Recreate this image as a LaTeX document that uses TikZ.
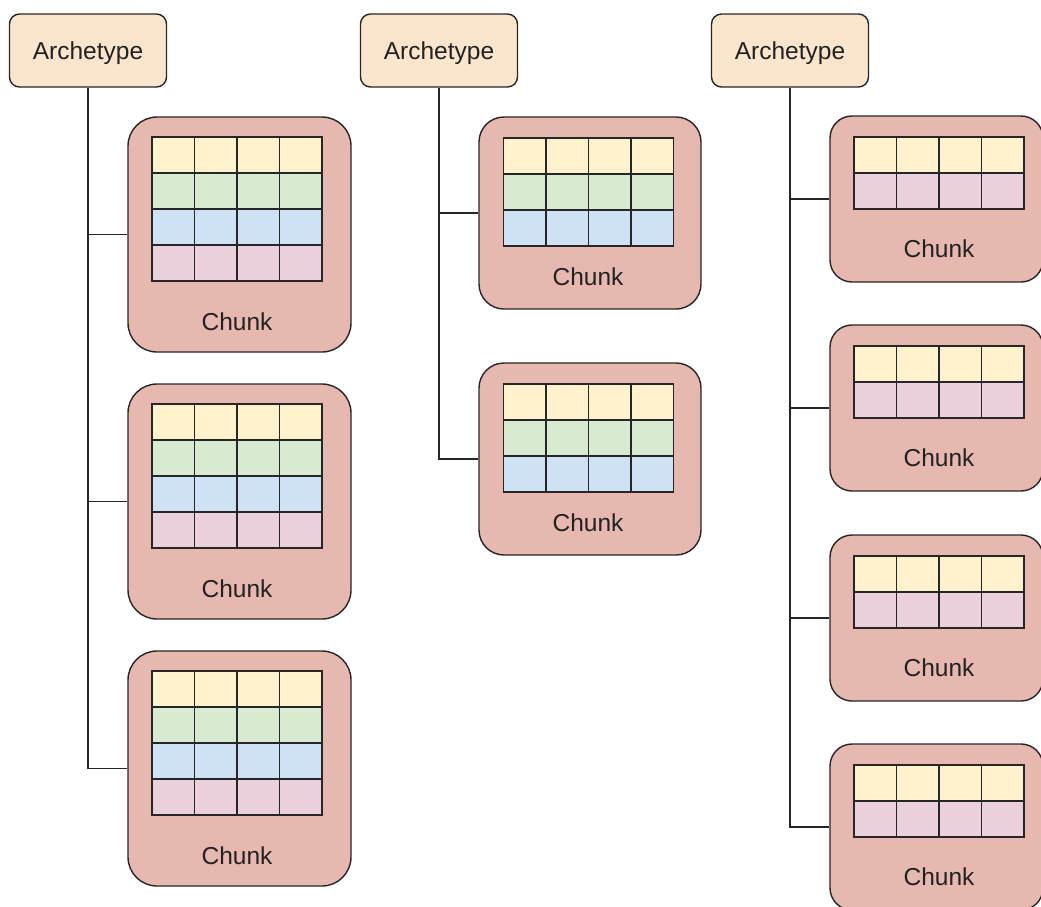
\documentclass[tikz,border=0pt]{standalone}
\usepackage{fontspec}
\setmainfont{Liberation Sans}

\definecolor{edge}{HTML}{262626}
\definecolor{ink}{HTML}{222222}
\definecolor{archfill}{HTML}{FCE5CD}
\definecolor{chunkfill}{HTML}{E6B8AF}
\definecolor{rowyellow}{HTML}{FFF2CC}
\definecolor{rowgreen}{HTML}{D9EAD3}
\definecolor{rowblue}{HTML}{CFE2F3}
\definecolor{rowpink}{HTML}{EAD1DC}

\tikzset{
  archbox/.style={draw=edge, fill=archfill, line width=1.4pt, rounded corners=10pt,
    minimum width=157pt, minimum height=73pt, inner sep=0pt,
    text height=17.5pt, text depth=0pt,
    font=\fontsize{24.5}{29}\selectfont, text=ink},
  chunkbox/.style={draw=edge, fill=chunkfill, line width=1.4pt, inner sep=0pt},
  chunktext/.style={font=\fontsize{24.5}{29}\selectfont, text=ink, inner sep=0pt,
    text height=17.5pt, text depth=0pt},
  cell/.style={draw=edge, line width=1.5pt, minimum width=42.5pt, minimum height=36pt,
    inner sep=0pt, outer sep=0pt, anchor=north west},
  link/.style={draw=edge, line width=1.5pt},
}

% a grid of component cells: name prefix, left x, top y, list of row colours
\newcommand\cellgrid[4]{%
  \foreach \rc [count=\r from 0] in {#4} {
    \foreach \k in {0,...,3} {
      \node[cell, fill=\rc] (#1-\r-\k) at ({#2+\k*42.5},{#3+\r*36}) {};
    }
  }%
}

\begin{document}
\begin{tikzpicture}[x=1pt, y=-1pt]
  \useasboundingbox (0,0) rectangle (1041,906);
  \clip (0,0) rectangle (1041,906);

  % archetypes
  \node[archbox] (a1) at (88,50.5) {Archetype};
  \node[archbox] (a2) at (439,50.5) {Archetype};
  \node[archbox] (a3) at (790,50.5) {Archetype};

  % first archetype: three chunks with four component rows
  \foreach \i/\top in {1/117, 2/384, 3/651} {
    \node[chunkbox, rounded corners=29pt, minimum width=223pt, minimum height=235pt]
      (l\i) at (239.5,{\top+117.5}) {};
    \draw[link] (a1.south) |- (l\i.west);
    \cellgrid{lg\i}{152}{\top+20}{rowyellow,rowgreen,rowblue,rowpink}
    \node[chunktext] (lt\i) at (237,{\top+205}) {Chunk};
  }

  % second archetype: two chunks with three component rows
  \foreach \i/\top in {1/117, 2/363} {
    \node[chunkbox, rounded corners=25pt, minimum width=222pt, minimum height=192pt]
      (m\i) at (590,{\top+96}) {};
    \draw[link] (a2.south) |- (m\i.west);
    \cellgrid{mg\i}{503.5}{\top+21}{rowyellow,rowgreen,rowblue}
    \node[chunktext] (mt\i) at (588,{\top+160}) {Chunk};
  }

  % third archetype: four chunks with two component rows
  \foreach \i/\top in {1/116, 2/325, 3/535, 4/744} {
    \node[chunkbox, rounded corners=22pt, minimum width=213pt, minimum height=166pt]
      (r\i) at (936.5,{\top+83}) {};
    \draw[link] (a3.south) |- (r\i.west);
    \cellgrid{rg\i}{854}{\top+21}{rowyellow,rowpink}
    \node[chunktext] (rt\i) at (939,{\top+133}) {Chunk};
  }
\end{tikzpicture}
\end{document}
